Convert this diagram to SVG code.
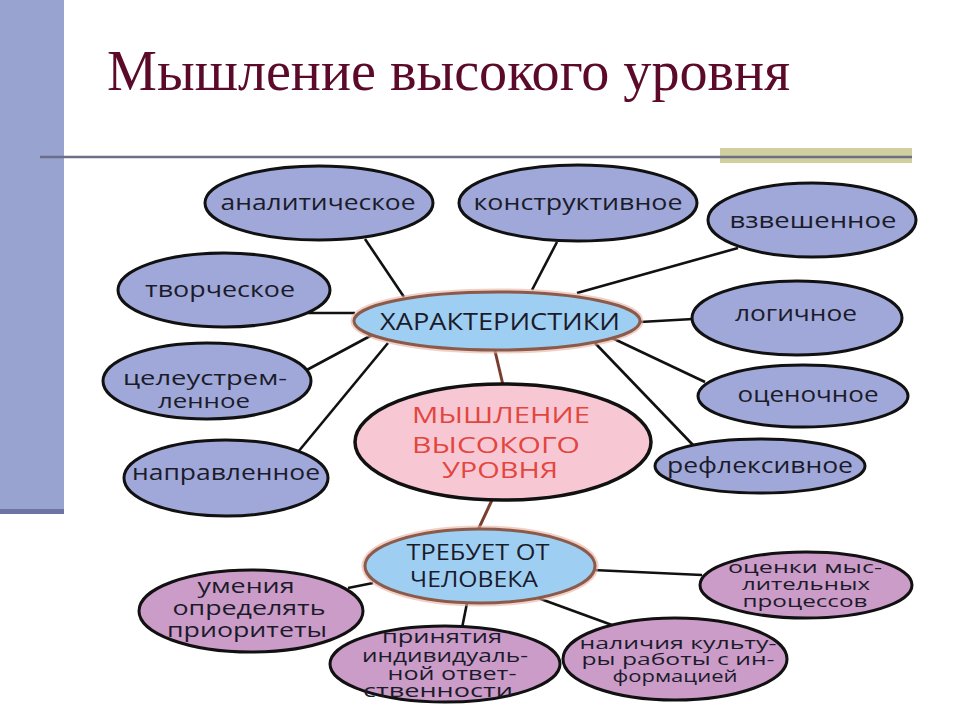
<svg xmlns="http://www.w3.org/2000/svg" width="960" height="720" viewBox="0 0 960 720">
<style>
.t{font-family:"Open Sans","DejaVu Sans",sans-serif;fill:#1b1b2b;text-anchor:middle}
.b{fill:#9fa8d8;stroke:#111;stroke-width:3}
.p{fill:#cc9cc8;stroke:#111;stroke-width:3}
.c{fill:#9ecff2;stroke:#8c5a4a;stroke-width:3}
.cg{fill:none;stroke:#e8b0a0;stroke-width:7;opacity:0.6}
.k{fill:#f7c8d3;stroke:#111;stroke-width:3.5}
.l{stroke:#111;stroke-width:2.6;fill:none}
.lb{stroke:#7a3e2e;stroke-width:3;fill:none}
.s22{font-size:22px}.s20{font-size:20px}.s24{font-size:24px}.s18{font-size:18px}.s17{font-size:17px}
.red{fill:#e2463f}
</style>
<rect x="0" y="0" width="64" height="514" fill="#98a4cf"/>
<rect x="0" y="509" width="64" height="5" fill="#6f74a4"/>
<rect x="720" y="148" width="192" height="15" fill="#d2cf9f"/>
<line x1="40" y1="157" x2="912" y2="157" stroke="#6b7088" stroke-width="2.5"/>
<text x="107" y="90" font-family="Liberation Serif,serif" font-size="56" fill="#5c0a2a" textLength="683" lengthAdjust="spacingAndGlyphs">Мышление высокого уровня</text>

<g id="connectors">
<line class="l" x1="365" y1="239" x2="404" y2="297"/>
<line class="l" x1="557" y1="242" x2="532" y2="290"/>
<line class="l" x1="738" y1="248" x2="577" y2="293"/>
<line class="l" x1="640" y1="322" x2="693" y2="319"/>
<line class="l" x1="308" y1="313" x2="355" y2="313"/>
<line class="l" x1="303" y1="372" x2="372" y2="335"/>
<line class="l" x1="298" y1="452" x2="388" y2="343"/>
<line class="l" x1="705" y1="382" x2="612" y2="338"/>
<line class="l" x1="693" y1="445" x2="595" y2="343"/>
<line class="lb" x1="495" y1="351" x2="503" y2="385"/>
<line class="lb" x1="492" y1="500" x2="478" y2="530"/>
<line class="l" x1="348" y1="588" x2="373" y2="583"/>
<line class="l" x1="467" y1="603" x2="462" y2="628"/>
<line class="l" x1="593" y1="570" x2="702" y2="575"/>
<line class="l" x1="538" y1="598" x2="612" y2="625"/>
</g>

<g id="analiticheskoe"><ellipse class="b" cx="319" cy="203" rx="114" ry="37"/><text class="t s22" x="318" y="210" textLength="195" lengthAdjust="spacingAndGlyphs">аналитическое</text></g>
<g id="konstruktivnoe"><ellipse class="b" cx="578" cy="203" rx="119" ry="38"/><text class="t s22" x="578" y="210" textLength="209" lengthAdjust="spacingAndGlyphs">конструктивное</text></g>
<g id="vzveshennoe"><ellipse class="b" cx="812" cy="220" rx="104" ry="37"/><text class="t s22" x="813" y="228" textLength="167" lengthAdjust="spacingAndGlyphs">взвешенное</text></g>
<g id="logichnoe"><ellipse class="b" cx="797" cy="318" rx="105" ry="37"/><text class="t s22" x="796" y="321" textLength="122" lengthAdjust="spacingAndGlyphs">логичное</text></g>
<g id="ocenochnoe"><ellipse class="b" cx="803" cy="396" rx="105" ry="31"/><text class="t s22" x="808" y="402" textLength="141" lengthAdjust="spacingAndGlyphs">оценочное</text></g>
<g id="refleksivnoe"><ellipse class="b" cx="760" cy="466" rx="105" ry="27"/><text class="t s22" x="760" y="473" textLength="186" lengthAdjust="spacingAndGlyphs">рефлексивное</text></g>
<g id="tvorcheskoe"><ellipse class="b" cx="224" cy="290" rx="106" ry="37"/><text class="t s22" x="220" y="297" textLength="150" lengthAdjust="spacingAndGlyphs">творческое</text></g>
<g id="celeustremlennoe"><ellipse class="b" cx="207" cy="381" rx="104" ry="38"/><text class="t s20" x="205" y="385" textLength="164" lengthAdjust="spacingAndGlyphs">целеустрем-</text><text class="t s20" x="204" y="408" textLength="92" lengthAdjust="spacingAndGlyphs">ленное</text></g>
<g id="napravlennoe"><ellipse class="b" cx="226" cy="478" rx="102" ry="38"/><text class="t s22" x="226" y="480" textLength="188" lengthAdjust="spacingAndGlyphs">направленное</text></g>

<g id="harakteristiki"><ellipse class="cg" cx="497" cy="321" rx="143" ry="29"/><ellipse class="c" cx="497" cy="321" rx="143" ry="29"/><text class="t s24" x="500" y="330" textLength="240" lengthAdjust="spacingAndGlyphs">ХАРАКТЕРИСТИКИ</text></g>
<g id="myshlenie"><ellipse class="k" cx="503" cy="442" rx="148" ry="58"/><text class="t s22 red" x="501" y="423" textLength="178" lengthAdjust="spacingAndGlyphs">МЫШЛЕНИЕ</text><text class="t s22 red" x="496" y="453" textLength="168" lengthAdjust="spacingAndGlyphs">ВЫСОКОГО</text><text class="t s22 red" x="500" y="478" textLength="116" lengthAdjust="spacingAndGlyphs">УРОВНЯ</text></g>
<g id="trebuet"><ellipse class="cg" cx="480" cy="566" rx="115" ry="37"/><ellipse class="c" cx="480" cy="566" rx="115" ry="37"/><text class="t s22" x="478" y="560" textLength="143" lengthAdjust="spacingAndGlyphs">ТРЕБУЕТ ОТ</text><text class="t s22" x="474" y="587" textLength="128" lengthAdjust="spacingAndGlyphs">ЧЕЛОВЕКА</text></g>

<g id="umeniya"><ellipse class="p" cx="251" cy="611" rx="112" ry="41"/><text class="t s20" x="246" y="593" textLength="97" lengthAdjust="spacingAndGlyphs">умения</text><text class="t s20" x="249" y="615" textLength="153" lengthAdjust="spacingAndGlyphs">определять</text><text class="t s20" x="247" y="637" textLength="160" lengthAdjust="spacingAndGlyphs">приоритеты</text></g>
<g id="prinyatiya"><ellipse class="p" cx="445" cy="664" rx="115" ry="38"/><text class="t s18" x="442" y="643" textLength="120" lengthAdjust="spacingAndGlyphs">принятия</text><text class="t s18" x="445" y="662" textLength="166" lengthAdjust="spacingAndGlyphs">индивидуаль-</text><text class="t s18" x="452" y="680" textLength="129" lengthAdjust="spacingAndGlyphs">ной ответ-</text><text class="t s18" x="438" y="697" textLength="150" lengthAdjust="spacingAndGlyphs">ственности</text></g>
<g id="nalichiya"><ellipse class="p" cx="675" cy="659" rx="112" ry="41"/><text class="t s17" x="678" y="649" textLength="197" lengthAdjust="spacingAndGlyphs">наличия культу-</text><text class="t s17" x="678" y="665" textLength="193" lengthAdjust="spacingAndGlyphs">ры работы с ин-</text><text class="t s17" x="675" y="682" textLength="125" lengthAdjust="spacingAndGlyphs">формацией</text></g>
<g id="ocenki"><ellipse class="p" cx="806" cy="585" rx="106" ry="33"/><text class="t s17" x="805" y="573" textLength="154" lengthAdjust="spacingAndGlyphs">оценки мыс-</text><text class="t s17" x="806" y="590" textLength="128" lengthAdjust="spacingAndGlyphs">лительных</text><text class="t s17" x="805" y="607" textLength="125" lengthAdjust="spacingAndGlyphs">процессов</text></g>
</svg>
